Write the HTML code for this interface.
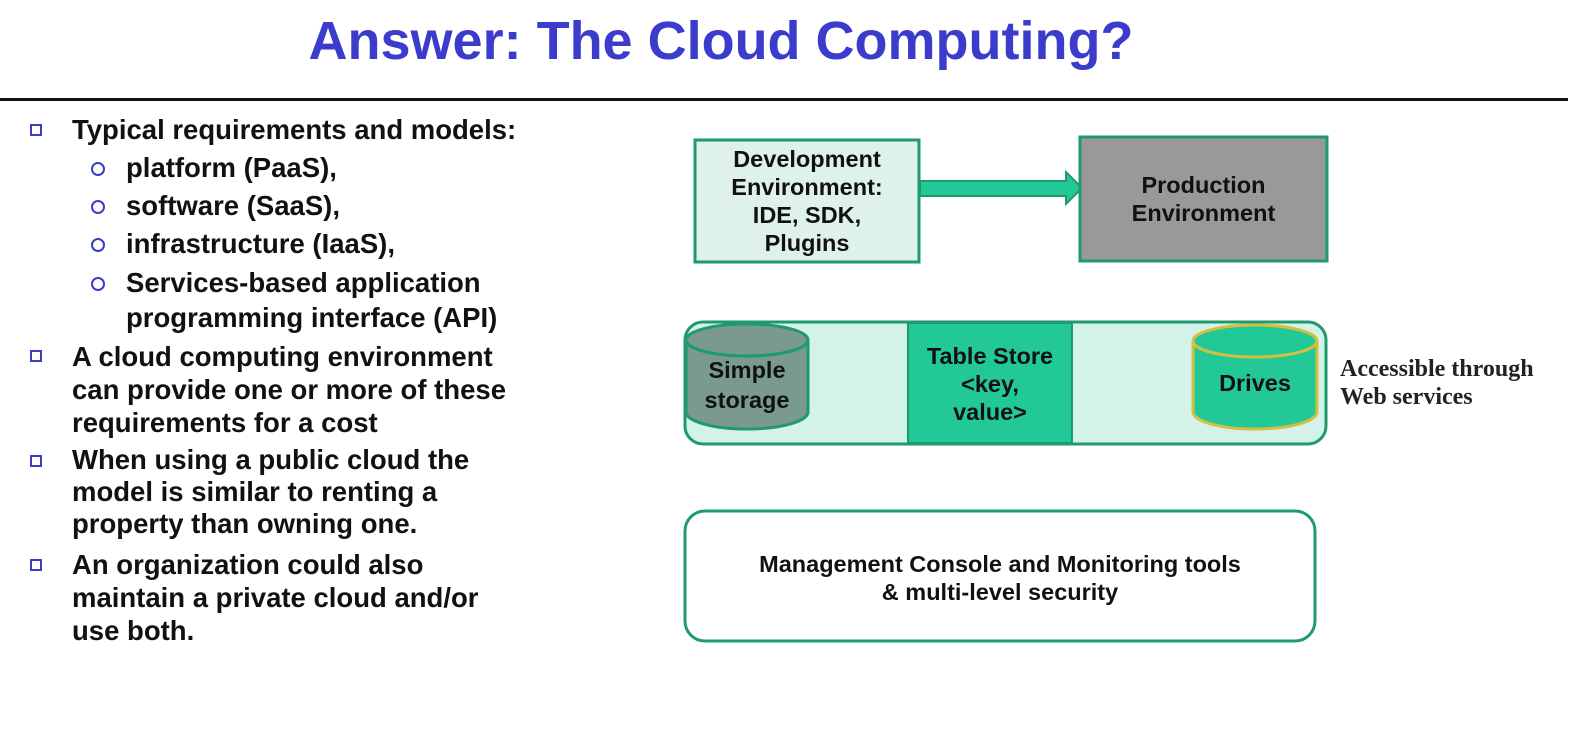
<!DOCTYPE html>
<html><head><meta charset="utf-8"><style>
body{margin:0;width:1588px;height:750px;background:#fff;position:relative;overflow:hidden;font-family:"Liberation Sans",sans-serif}
.a{position:absolute;white-space:nowrap}
.t{font-weight:bold;font-size:27.5px;color:#111;line-height:32px}
.sq{position:absolute;width:12px;height:12px;border:2px solid #3b3bcc;box-sizing:border-box}
.ci{position:absolute;width:14px;height:14px;border:2px solid #3b3bcc;border-radius:50%;box-sizing:border-box}
.c{text-align:center;font-weight:bold;font-size:23.5px;color:#111;line-height:28px}
</style></head><body>
<div class="a" style="left:0;width:1442px;top:10px;text-align:center;font-weight:bold;font-size:54px;color:#3b3bcc">Answer: The Cloud Computing?</div>
<div class="a" style="left:0;top:98px;width:1568px;height:3px;background:#111"></div>

<div class="sq" style="left:30px;top:124px"></div>
<div class="a t" style="left:72px;top:114px">Typical requirements and models:</div>
<div class="ci" style="left:91px;top:162px"></div><div class="a t" style="left:126px;top:152px">platform (PaaS),</div>
<div class="ci" style="left:91px;top:200px"></div><div class="a t" style="left:126px;top:190px">software (SaaS),</div>
<div class="ci" style="left:91px;top:238px"></div><div class="a t" style="left:126px;top:228px">infrastructure (IaaS),</div>
<div class="ci" style="left:91px;top:277px"></div><div class="a t" style="left:126px;top:267px">Services-based application</div>
<div class="a t" style="left:126px;top:302px">programming interface (API)</div>
<div class="sq" style="left:30px;top:350px"></div>
<div class="a t" style="left:72px;top:340px;line-height:33px">A cloud computing environment<br>can provide one or more of these<br>requirements for a cost</div>
<div class="sq" style="left:30px;top:455px"></div>
<div class="a t" style="left:72px;top:444px;line-height:32px">When using a public cloud the<br>model is similar to renting a<br>property than owning one.</div>
<div class="sq" style="left:30px;top:559px"></div>
<div class="a t" style="left:72px;top:548px;line-height:33px">An organization could also<br>maintain a private cloud and/or<br>use both.</div>

<svg class="a" style="left:0;top:0" width="1588" height="750">
<rect x="695" y="140" width="224" height="122" fill="#dff2ea" stroke="#1e9a6e" stroke-width="3"/>
<polygon points="920,181 1066,181 1066,172 1082,188 1066,204 1066,196 920,196" fill="#22c997" stroke="#1e9a6e" stroke-width="2"/>
<rect x="1080" y="137" width="247" height="124" fill="#999" stroke="#1e9a6e" stroke-width="3"/>
<rect x="685" y="322" width="641" height="122" rx="18" fill="#d3f3ea" stroke="#1e9a6e" stroke-width="3"/>
<rect x="908" y="323" width="164" height="120" fill="#22c997" stroke="#1e9a6e" stroke-width="2"/>
<path d="M686,340 V412 A61,17 0 0 0 808,412 V340" fill="#7a9a8e" stroke="#1e9a6e" stroke-width="3"/>
<ellipse cx="747" cy="340" rx="61" ry="16" fill="#7a9a8e" stroke="#1e9a6e" stroke-width="3"/>
<path d="M1193,341 V412 A62,17 0 0 0 1317,412 V341" fill="#22c997" stroke="#d4c040" stroke-width="3"/>
<ellipse cx="1255" cy="341" rx="62" ry="16" fill="#22c997" stroke="#d4c040" stroke-width="3"/>
<rect x="685" y="511" width="630" height="130" rx="20" fill="#fff" stroke="#1e9a6e" stroke-width="3"/>
</svg>

<div class="a c" style="left:695px;width:224px;top:145px">Development<br>Environment:<br>IDE, SDK,<br>Plugins</div>
<div class="a c" style="left:1080px;width:247px;top:171px">Production<br>Environment</div>
<div class="a c" style="left:686px;width:122px;top:355px;line-height:30px">Simple<br>storage</div>
<div class="a c" style="left:908px;width:164px;top:342px">Table Store<br>&lt;key,<br>value&gt;</div>
<div class="a c" style="left:1193px;width:124px;top:369px">Drives</div>
<div class="a" style="left:1340px;top:355px;font-family:'Liberation Serif',serif;font-weight:bold;font-size:24px;line-height:28px;color:#222">Accessible through<br>Web services</div>
<div class="a c" style="left:685px;width:630px;top:550px">Management Console and Monitoring tools<br>&amp; multi-level security</div>
</body></html>
